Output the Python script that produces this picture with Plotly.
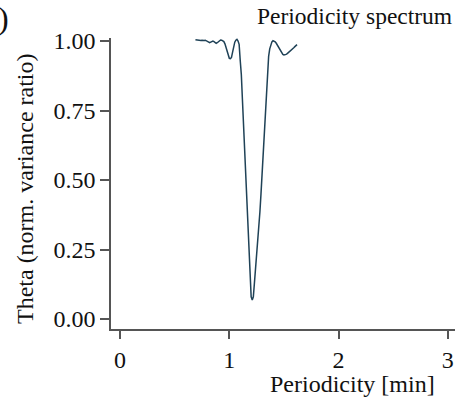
import plotly.graph_objects as go

periodicity = [0.69, 0.70, 0.71, 0.72, 0.73, 0.74, 0.75, 0.76, 0.77, 0.78, 0.79,
               0.80, 0.81, 0.82, 0.83, 0.84, 0.85, 0.86, 0.87, 0.88, 0.89,
               0.90, 0.91, 0.92, 0.93, 0.94, 0.95, 0.96, 0.97, 0.98, 0.99,
               1.00, 1.01, 1.02, 1.03, 1.04, 1.05, 1.06, 1.07, 1.08, 1.09,
               1.10, 1.11, 1.12, 1.13, 1.14, 1.15, 1.16, 1.17, 1.18, 1.19,
               1.20, 1.21, 1.22, 1.23, 1.24, 1.25, 1.26, 1.27, 1.28, 1.29,
               1.30, 1.31, 1.32, 1.33, 1.34, 1.35, 1.36, 1.37, 1.38, 1.39,
               1.40, 1.41, 1.42, 1.43, 1.44, 1.45, 1.46, 1.47, 1.48, 1.49,
               1.50, 1.51, 1.52, 1.53, 1.54, 1.55, 1.56, 1.57, 1.58, 1.59,
               1.60, 1.61, 1.62]
theta = [1.005, 1.004, 1.003, 1.004, 1.003, 1.002, 1.003, 1.001, 1.002, 1.003, 1.000,
         0.998, 0.996, 0.994, 0.996, 0.999, 1.000, 0.998, 0.994, 0.992, 0.994,
         0.998, 1.002, 1.004, 1.003, 1.001, 0.998, 0.990, 0.975, 0.958, 0.945,
         0.938, 0.937, 0.941, 0.960, 0.982, 0.996, 1.003, 1.006, 1.000, 0.988,
         0.930, 0.880, 0.790, 0.700, 0.600, 0.505, 0.400, 0.310, 0.225, 0.135,
         0.080, 0.068, 0.080, 0.130, 0.180, 0.215, 0.260, 0.325, 0.385, 0.450,
         0.525, 0.610, 0.690, 0.760, 0.830, 0.905, 0.945, 0.972, 0.988, 0.997,
         1.001, 1.000, 0.997, 0.992, 0.985, 0.978, 0.970, 0.963, 0.957, 0.952,
         0.950, 0.950, 0.952, 0.955, 0.958, 0.961, 0.964, 0.968, 0.972, 0.976,
         0.980, 0.984, 0.987]

x_ticks = [0, 1, 2, 3]
y_ticks = [0.0, 0.25, 0.5, 0.75, 1.0]
y_tick_labels = ["0.00", "0.25", "0.50", "0.75", "1.00"]

FONT = "Liberation Serif, Times New Roman, serif"
TXT = "#111111"
AX = "#555555"

fig = go.Figure()
fig.add_trace(go.Scatter(x=periodicity, y=theta, mode="lines",
                         line=dict(color="#1f4257", width=1.5),
                         showlegend=False, cliponaxis=False))

L, T, W, H = 111, 38, 344, 291


def px(xp):
    return (xp - L) / W


def py(yp):
    return (T + H - yp) / H


fig.update_layout(
    width=455, height=400,
    margin=dict(l=L, r=455 - L - W, t=T, b=400 - T - H, pad=0),
    paper_bgcolor="white", plot_bgcolor="white",
    font=dict(family=FONT, size=24, color=TXT),
    xaxis=dict(range=[-0.083, 3.066], tickvals=x_ticks, ticks="outside",
               ticklen=8, tickwidth=1.5, tickcolor=AX, showline=True,
               linecolor=AX, linewidth=1.5, showgrid=False, zeroline=False,
               tickfont=dict(family=FONT, size=24, color=TXT)),
    yaxis=dict(range=[-0.036, 1.011], tickvals=y_ticks, ticktext=y_tick_labels,
               ticks="outside", ticklen=9, tickwidth=1.5, tickcolor=AX,
               showline=True, linecolor=AX, linewidth=1.5, showgrid=False,
               zeroline=False, tickfont=dict(family=FONT, size=24, color=TXT)),
    annotations=[
        dict(text="Theta (norm. variance ratio)", xref="paper", yref="paper",
             x=px(25), y=py(189), xanchor="center", yanchor="middle",
             textangle=-90, showarrow=False,
             font=dict(family=FONT, size=24, color=TXT)),
        dict(text="Periodicity [min]", xref="paper", yref="paper",
             x=px(352), y=py(384), xanchor="center", yanchor="middle",
             showarrow=False, font=dict(family=FONT, size=24, color=TXT)),
        dict(text="Periodicity spectrum", xref="paper", yref="paper",
             x=px(454), y=py(16), xanchor="right", yanchor="middle",
             showarrow=False, font=dict(family=FONT, size=23.5, color=TXT)),
        dict(text=")", xref="paper", yref="paper",
             x=px(11), y=py(18), xanchor="right", yanchor="middle",
             showarrow=False, font=dict(family=FONT, size=32, color=TXT)),
    ],
)

fig.write_html("out.html")
